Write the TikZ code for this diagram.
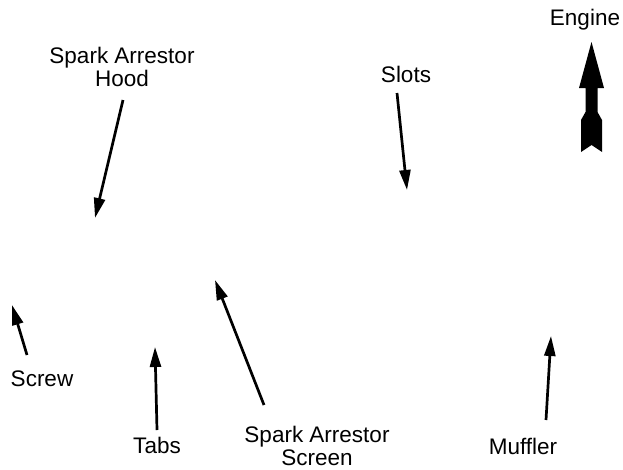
\documentclass[tikz,border=0pt]{standalone}
\usepackage{fontspec}
\setmainfont{Liberation Sans}
\usetikzlibrary{arrows.meta}

\begin{document}
\begin{tikzpicture}[x=1pt, y=-1pt,
  lbl/.style={font=\fontsize{22.5}{23}\selectfont, align=center, inner sep=0pt},
  ar/.style={-{Triangle[length=20pt, width=11pt]}, line width=2.7pt},
]
\useasboundingbox (0,0) rectangle (623,469);

% labels
\node[lbl] (engine) at (585,20)  {Engine};
\node[lbl] (hood)   at (122,67)  {Spark Arrestor\\Hood};
\node[lbl] (slots)  at (406,74)  {Slots};
\node[lbl] (screw)  at (42,379)  {Screw};
\node[lbl] (tabs)   at (157,445) {Tabs};
\node[lbl] (screen) at (317,446) {Spark Arrestor\\Screen};
\node[lbl] (muff)   at (523,446) {Muffler};

% arrow ends
\coordinate (hood-a)   at (123,100);  \coordinate (hood-b)   at (95,218);
\coordinate (slots-a)  at (397,93);   \coordinate (slots-b)  at (407,190);
\coordinate (screw-a)  at (27,355);   \coordinate (screw-b)  at (12,305);
\coordinate (tabs-a)   at (157,430);  \coordinate (tabs-b)   at (155,347);
\coordinate (screen-a) at (264,405);  \coordinate (screen-b) at (215,280);
\coordinate (muff-a)   at (546,420);  \coordinate (muff-b)   at (551,336);

\foreach \s in {hood,slots,screw,tabs,screen,muff}
  \draw[ar] (\s-a) -- (\s-b);

% engine direction
\fill (591.5,42) -- (604,88) -- (597.5,88) -- (597.5,112) -- (602,120)
  -- (602,152) -- (591.5,145) -- (581,152) -- (581,120) -- (585.5,112)
  -- (585.5,88) -- (579,88) -- cycle;

\end{tikzpicture}
\end{document}
